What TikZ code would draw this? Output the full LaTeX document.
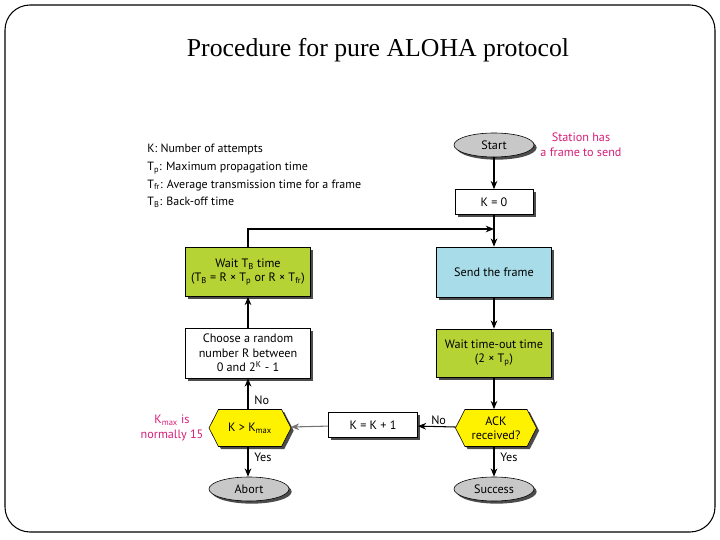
\documentclass[tikz,border=0pt]{standalone}
\usepackage{fontspec}
\setmainfont{Liberation Serif}
\newfontfamily\flowfont{PT Sans}
\usetikzlibrary{arrows.meta,shapes.geometric,shapes.symbols,shadows}

\definecolor{limefill}{RGB}{181,211,52}
\definecolor{skyfill}{RGB}{168,220,232}
\definecolor{ackyellow}{RGB}{255,242,0}
\definecolor{termgray}{RGB}{200,200,200}
\definecolor{notemag}{RGB}{214,30,120}

\begin{document}
\begin{tikzpicture}[x=0.03cm,y=-0.03cm,
	every node/.style={font=\flowfont\fontsize{10.4}{12.4}\selectfont, align=center, inner sep=1pt},
	shade/.style={drop shadow={shadow xshift=0.08cm, shadow yshift=-0.08cm, fill=black!70, opacity=1}},
	proc/.style={rectangle, draw, line width=0.5pt, fill=white, shade},
	term/.style={ellipse, draw, line width=0.5pt, fill=termgray, shade, minimum width=2.4cm, minimum height=0.72cm, inner sep=0pt},
	decide/.style={signal, signal to=east and west, signal pointer angle=126, draw, line width=0.5pt, fill=ackyellow, shade, minimum height=1.11cm, inner sep=0pt},
	note/.style={text=notemag},
	link/.style={line width=0.9pt, -{Stealth[length=2.5mm, width=2mm]}}]
	\useasboundingbox (0,0) rectangle (720,540);
	\draw[line width=0.9pt, rounded corners=0.75cm] (5,5) rectangle (715,532);
	\node[font=\fontsize{22}{26}\selectfont] (title) at (378,50) {Procedure for pure ALOHA protocol};

	% legend
	\node[anchor=west, align=left, font=\flowfont\fontsize{10.2}{15}\selectfont] (legend) at (146,176) {K: Number of attempts\\
		T\textsubscript{p}: Maximum propagation time\\
		T\textsubscript{fr}: Average transmission time for a frame\\
		T\textsubscript{B}: Back-off time};

	% right column
	\node[term] (start) at (494,145) {Start};
	\node[note] (station) at (581,145) {Station has\\a frame to send};
	\node[proc, minimum width=2.34cm, minimum height=0.75cm] (kzero) at (494,202) {K = 0};
	\node[proc, fill=skyfill, minimum width=3.45cm, minimum height=1.5cm] (send) at (494,272) {Send the frame};
	\node[proc, fill=limefill, minimum width=3.45cm, minimum height=1.44cm] (timeout) at (494,353) {Wait time-out time\\(2 × T\textsubscript{p})};
	\node[decide, minimum width=2.43cm] (ack) at (496,428) {ACK\\received?};
	\node[term] (success) at (494,489) {Success};

	% middle
	\node[proc, minimum width=2.67cm, minimum height=0.75cm] (kinc) at (373,425) {K = K + 1};

	% left column
	\node[proc, fill=limefill, minimum width=3.75cm, minimum height=1.47cm] (backoff) at (248,272) {Wait T\textsubscript{B} time\\(T\textsubscript{B} = R × T\textsubscript{p} or R × T\textsubscript{fr})};
	\node[proc, minimum width=3.75cm, minimum height=1.5cm] (random) at (248,353) {Choose a random\\number R between\\0 and 2\textsuperscript{K} - 1};
	\node[decide, minimum width=2.46cm] (kmax) at (250,428) {K > K\textsubscript{max}};
	\node[note] (kmaxnote) at (172,428) {K\textsubscript{max} is\\normally 15};
	\node[term] (abort) at (249,489) {Abort};

	\coordinate (merge) at (494,229);

	% connectors
	\draw[link] (start) -- (kzero);
	\draw[link] (kzero) -- (send);
	\draw[link] (backoff.north) |- (merge);
	\draw[link] (send) -- (timeout);
	\draw[link] (timeout) -- (ack.north -| timeout);
	\draw[link] (ack.south -| success) -- node[pos=0.35, right, xshift=4pt] (ackyes) {Yes} (success);
	\draw[link] (ack) -- node[pos=0.45, above] (ackno) {No} (kinc);
	\draw[link, draw=black!55] (kinc) -- (kmax);
	\draw[link] (kmax.south -| random) -- node[pos=0.35, right, xshift=4pt] (kmaxyes) {Yes} (abort.north -| random);
	\draw[link] (kmax.north -| random) -- node[pos=0.3, right, xshift=4pt] (kmaxno) {No} (random);
	\draw[link] (random) -- (backoff);
\end{tikzpicture}
\end{document}
